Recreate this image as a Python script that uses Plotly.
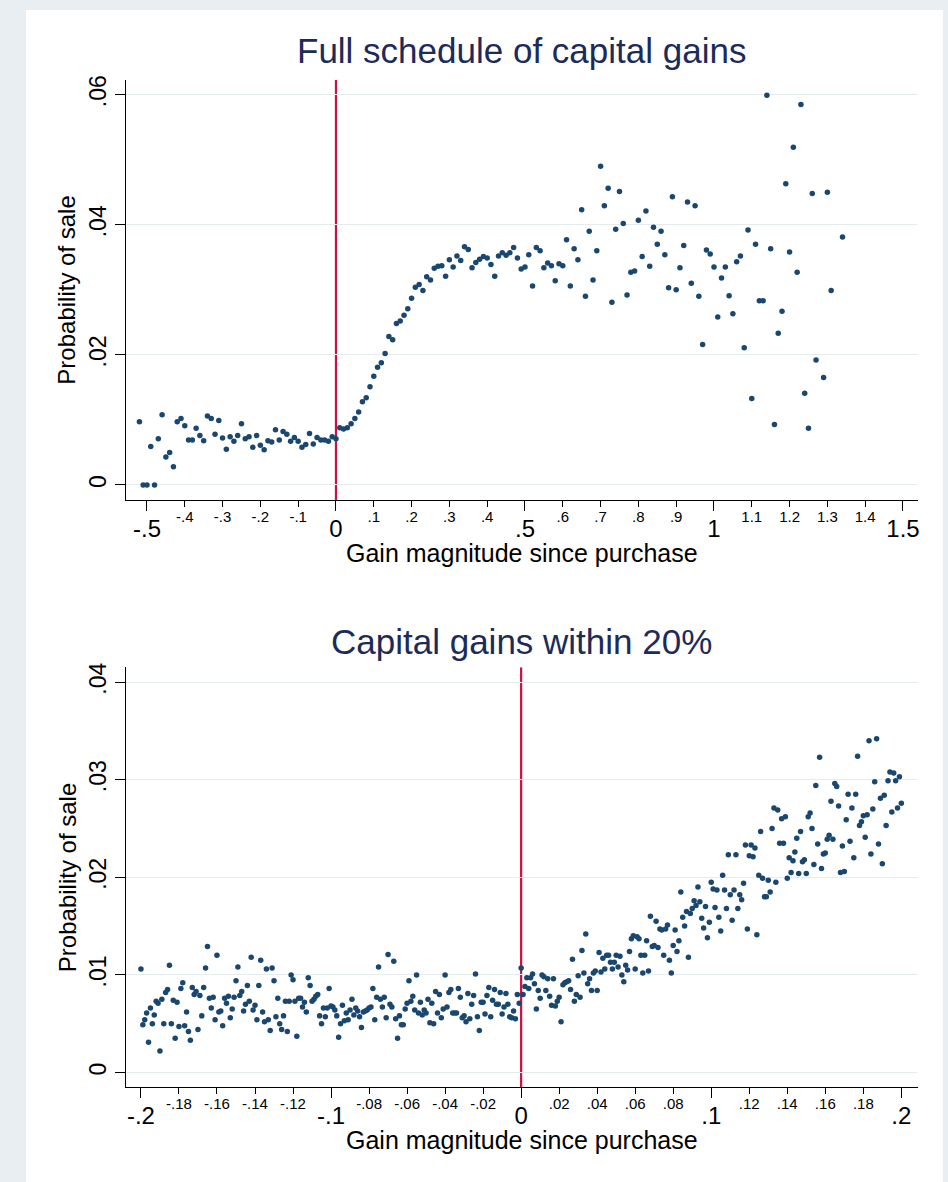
import plotly.graph_objects as go

W, H = 948, 1182
FONT = "Liberation Sans, Arial, sans-serif"
NAVY = "#1a476f"
TITLE_NAVY = "#1c2b59"
RED = "#cc1040"
GRID = "#e4ecee"
FRAME = "#e8eef1"

# ---------------- Top panel: full schedule of capital gains ----------------
top_x = [-0.52, -0.51, -0.50, -0.49, -0.48, -0.47, -0.46, -0.45, -0.44, -0.43,
         -0.42, -0.41, -0.40, -0.39, -0.38, -0.37, -0.36, -0.35, -0.34, -0.33,
         -0.32, -0.31, -0.30, -0.29, -0.28, -0.27, -0.26, -0.25, -0.24, -0.23,
         -0.22, -0.21, -0.20, -0.19, -0.18, -0.17, -0.16, -0.15, -0.14, -0.13,
         -0.12, -0.11, -0.10, -0.09, -0.08, -0.07, -0.06, -0.05, -0.04, -0.03,
         -0.02, -0.01, 0.00,
         0.01, 0.02, 0.03, 0.04, 0.05, 0.06, 0.07, 0.08, 0.09, 0.10,
         0.11, 0.12, 0.13, 0.14, 0.15, 0.16, 0.17, 0.18, 0.19, 0.20,
         0.21, 0.22, 0.23, 0.24, 0.25, 0.26, 0.27, 0.28, 0.29, 0.30,
         0.31, 0.32, 0.33, 0.34, 0.35, 0.36, 0.37, 0.38, 0.39, 0.40,
         0.41, 0.42, 0.43, 0.44, 0.45, 0.46, 0.47, 0.48, 0.49, 0.50,
         0.51, 0.52, 0.53, 0.54, 0.55, 0.56, 0.57, 0.58, 0.59, 0.60,
         0.61, 0.62, 0.63, 0.64, 0.65, 0.66, 0.67, 0.68, 0.69, 0.70,
         0.71, 0.72, 0.73, 0.74, 0.75, 0.76, 0.77, 0.78, 0.79, 0.80,
         0.81, 0.82, 0.83, 0.84, 0.85, 0.86, 0.87, 0.88, 0.89, 0.90,
         0.91, 0.92, 0.93, 0.94, 0.95, 0.96, 0.97, 0.98, 0.99, 1.00,
         1.01, 1.02, 1.03, 1.04, 1.05, 1.06, 1.07, 1.08, 1.09, 1.10,
         1.11, 1.12, 1.13, 1.14, 1.15, 1.16, 1.17, 1.18, 1.19, 1.20,
         1.21, 1.22, 1.23, 1.24, 1.25, 1.26, 1.27, 1.29, 1.30, 1.31,
         1.34]
top_y = [0.0097, 0.0000, 0.0000, 0.0059, 0.0000, 0.0071, 0.0108, 0.0043, 0.0050, 0.0028,
         0.0097, 0.0102, 0.0091, 0.0069, 0.0069, 0.0087, 0.0076, 0.0068, 0.0106, 0.0102,
         0.0078, 0.0099, 0.0072, 0.0055, 0.0074, 0.0067, 0.0076, 0.0094, 0.0071, 0.0074,
         0.0058, 0.0076, 0.0061, 0.0054, 0.0068, 0.0066, 0.0085, 0.0069, 0.0082, 0.0078,
         0.0067, 0.0073, 0.0067, 0.0058, 0.0062, 0.0079, 0.0063, 0.0073, 0.0069, 0.0069,
         0.0067, 0.0074, 0.0071,
         0.0088, 0.0086, 0.0088, 0.0094, 0.0102, 0.0112, 0.0128, 0.0134, 0.0151, 0.0167,
         0.0181, 0.0188, 0.0202, 0.0228, 0.0223, 0.0248, 0.0252, 0.0261, 0.0271, 0.0287,
         0.0304, 0.0308, 0.0299, 0.0320, 0.0315, 0.0333, 0.0336, 0.0337, 0.0321, 0.0346,
         0.0335, 0.0352, 0.0345, 0.0366, 0.0362, 0.0334, 0.0342, 0.0347, 0.0351, 0.0349,
         0.0339, 0.0321, 0.0352, 0.0357, 0.0353, 0.0357, 0.0365, 0.0349, 0.0332, 0.0335,
         0.0354, 0.0306, 0.0365, 0.0360, 0.0334, 0.0341, 0.0337, 0.0314, 0.0340, 0.0337,
         0.0377, 0.0306, 0.0363, 0.0346, 0.0423, 0.0290, 0.0390, 0.0315, 0.0360, 0.0490,
         0.0429, 0.0456, 0.0281, 0.0393, 0.0451, 0.0402, 0.0292, 0.0327, 0.0329, 0.0407,
         0.0351, 0.0421, 0.0336, 0.0396, 0.0370, 0.0390, 0.0354, 0.0303, 0.0443, 0.0300,
         0.0334, 0.0368, 0.0435, 0.0310, 0.0429, 0.0290, 0.0216, 0.0361, 0.0355, 0.0335,
         0.0258, 0.0318, 0.0335, 0.0291, 0.0263, 0.0343, 0.0352, 0.0211, 0.0392, 0.0133,
         0.0370, 0.0283, 0.0283, 0.0599, 0.0363, 0.0093, 0.0233, 0.0267, 0.0463, 0.0358,
         0.0519, 0.0327, 0.0585, 0.0141, 0.0087, 0.0448, 0.0192, 0.0165, 0.0450, 0.0299,
         0.0381]

top_major_vals = [-0.5, 0, 0.5, 1, 1.5]
top_major_text = ["-.5", "0", ".5", "1", "1.5"]
top_minor_vals = [-0.4, -0.3, -0.2, -0.1, 0.1, 0.2, 0.3, 0.4, 0.6, 0.7, 0.8, 0.9,
                  1.1, 1.2, 1.3, 1.4]
top_minor_text = ["-.4", "-.3", "-.2", "-.1", ".1", ".2", ".3", ".4", ".6", ".7", ".8", ".9",
                  "1.1", "1.2", "1.3", "1.4"]
top_y_vals = [0, 0.02, 0.04, 0.06]
top_y_text = ["0", ".02", ".04", ".06"]

# ---------------- Bottom panel: capital gains within 20% ----------------
# bins of width 0.001 from -0.200 to 0.200
bot_x = [round(-0.200 + 0.001 * i, 3) for i in range(401)]

bot_y_neg_far = [  # -0.200 .. -0.098
    0.0106, 0.0049, 0.0054, 0.0061, 0.0031, 0.0066, 0.0050, 0.0059, 0.0073, 0.0071,
    0.0022, 0.0075, 0.0050, 0.0082, 0.0085, 0.0110, 0.0050, 0.0074, 0.0035, 0.0072,
    0.0047, 0.0086, 0.0092, 0.0048, 0.0062, 0.0042, 0.0033, 0.0087, 0.0080, 0.0083,
    0.0044, 0.0079, 0.0058, 0.0087, 0.0107, 0.0129, 0.0076, 0.0066, 0.0077, 0.0054,
    0.0120, 0.0062, 0.0063, 0.0048, 0.0076, 0.0071, 0.0078, 0.0056, 0.0065, 0.0077,
    0.0094, 0.0108, 0.0079, 0.0083, 0.0063, 0.0070, 0.0089, 0.0073, 0.0118, 0.0064,
    0.0069, 0.0054, 0.0089, 0.0115, 0.0062, 0.0052, 0.0106, 0.0054, 0.0043, 0.0107,
    0.0094, 0.0057, 0.0076, 0.0050, 0.0044, 0.0058, 0.0073, 0.0042, 0.0073, 0.0100,
    0.0095, 0.0073, 0.0037, 0.0076, 0.0076, 0.0067, 0.0072, 0.0062, 0.0097, 0.0089,
    0.0073, 0.0075, 0.0078, 0.0080, 0.0058, 0.0050, 0.0066, 0.0057, 0.0066, 0.0086,
    0.0068, 0.0067, 0.0064]
bot_y_neg_near = [  # -0.097 .. -0.001
    0.0058, 0.0036, 0.0050, 0.0069, 0.0053, 0.0061, 0.0054, 0.0064, 0.0075, 0.0059,
    0.0066, 0.0063, 0.0057, 0.0046, 0.0062, 0.0063, 0.0064, 0.0066, 0.0067, 0.0086,
    0.0054, 0.0077, 0.0108, 0.0075, 0.0067, 0.0077, 0.0056, 0.0121, 0.0070, 0.0067,
    0.0114, 0.0055, 0.0035, 0.0058, 0.0049, 0.0049, 0.0065, 0.0071, 0.0094, 0.0073,
    0.0078, 0.0064, 0.0100, 0.0061, 0.0072, 0.0059, 0.0064, 0.0061, 0.0075, 0.0051,
    0.0071, 0.0050, 0.0083, 0.0061, 0.0080, 0.0056, 0.0065, 0.0100, 0.0067, 0.0082,
    0.0085, 0.0061, 0.0061, 0.0061, 0.0086, 0.0077, 0.0056, 0.0058, 0.0052, 0.0081,
    0.0055, 0.0070, 0.0079, 0.0101, 0.0057, 0.0043, 0.0072, 0.0072, 0.0060, 0.0079,
    0.0087, 0.0057, 0.0074, 0.0085, 0.0070, 0.0070, 0.0082, 0.0060, 0.0067, 0.0081,
    0.0070, 0.0057, 0.0056, 0.0063, 0.0055, 0.0080, 0.0071]
bot_y_zero = [0.0107]
bot_y_pos_near = [  # 0.001 .. 0.108
    0.0080, 0.0088, 0.0097, 0.0086, 0.0097, 0.0101, 0.0091, 0.0065, 0.0084, 0.0076,
    0.0100, 0.0098, 0.0084, 0.0096, 0.0078, 0.0069, 0.0096, 0.0068, 0.0073, 0.0077,
    0.0052, 0.0090, 0.0092, 0.0093, 0.0094, 0.0085, 0.0116, 0.0073, 0.0080, 0.0099,
    0.0077, 0.0125, 0.0102, 0.0142, 0.0091, 0.0096, 0.0084, 0.0102, 0.0104, 0.0084,
    0.0123, 0.0103, 0.0117, 0.0106, 0.0120, 0.0120, 0.0113, 0.0106, 0.0113, 0.0120,
    0.0108, 0.0119, 0.0100, 0.0093, 0.0110, 0.0105, 0.0124, 0.0137, 0.0140, 0.0106,
    0.0139, 0.0137, 0.0120, 0.0102, 0.0120, 0.0135, 0.0104, 0.0160, 0.0129, 0.0130,
    0.0155, 0.0128, 0.0147, 0.0146, 0.0120, 0.0147, 0.0151, 0.0115, 0.0102, 0.0130,
    0.0146, 0.0124, 0.0135, 0.0185, 0.0159, 0.0150, 0.0165, 0.0118, 0.0163, 0.0168,
    0.0176, 0.0171, 0.0190, 0.0175, 0.0158, 0.0148, 0.0170, 0.0138, 0.0154, 0.0195,
    0.0188, 0.0169, 0.0187, 0.0159, 0.0145, 0.0202, 0.0187, 0.0168]
bot_y_pos_far = [  # 0.109 .. 0.200
    0.0223, 0.0182, 0.0156, 0.0187, 0.0223, 0.0168, 0.0182, 0.0177, 0.0194, 0.0233,
    0.0147, 0.0222, 0.0233, 0.0221, 0.0230, 0.0141, 0.0202, 0.0247, 0.0199, 0.0180,
    0.0180, 0.0197, 0.0185, 0.0250, 0.0271, 0.0195, 0.0269, 0.0235, 0.0260, 0.0235,
    0.0262, 0.0199, 0.0220, 0.0205, 0.0217, 0.0226, 0.0240, 0.0204, 0.0247, 0.0216,
    0.0218, 0.0204, 0.0262, 0.0266, 0.0250, 0.0213, 0.0294, 0.0234, 0.0323, 0.0209,
    0.0224, 0.0225, 0.0239, 0.0243, 0.0278, 0.0239, 0.0296, 0.0293, 0.0273, 0.0205,
    0.0232, 0.0206, 0.0259, 0.0285, 0.0237, 0.0271, 0.0220, 0.0285, 0.0324, 0.0253,
    0.0257, 0.0263, 0.0241, 0.0264, 0.0340, 0.0224, 0.0270, 0.0298, 0.0342, 0.0234,
    0.0281, 0.0214, 0.0284, 0.0253, 0.0299, 0.0308, 0.0267, 0.0307, 0.0299, 0.0271,
    0.0303, 0.0276]
bot_y = bot_y_neg_far + bot_y_neg_near + bot_y_zero + bot_y_pos_near + bot_y_pos_far
assert len(bot_y) == len(bot_x)
assert len(top_x) == len(top_y)

bot_major_vals = [-0.2, -0.1, 0, 0.1, 0.2]
bot_major_text = ["-.2", "-.1", "0", ".1", ".2"]
bot_minor_vals = [-0.18, -0.16, -0.14, -0.12, -0.08, -0.06, -0.04, -0.02,
                  0.02, 0.04, 0.06, 0.08, 0.12, 0.14, 0.16, 0.18]
bot_minor_text = ["-.18", "-.16", "-.14", "-.12", "-.08", "-.06", "-.04", "-.02",
                  ".02", ".04", ".06", ".08", ".12", ".14", ".16", ".18"]
bot_y_vals = [0, 0.01, 0.02, 0.03, 0.04]
bot_y_text = ["0", ".01", ".02", ".03", ".04"]

titles = ["Full schedule of capital gains", "Capital gains within 20%"]
x_title = "Gain magnitude since purchase"
y_title = "Probability of sale"

# ---------------- geometry (pixels) ----------------
PX_L, PX_R = 126, 920
TOP_T, TOP_B = 75, 497
BOT_T, BOT_B = 665, 1087
xdom = [PX_L / W, PX_R / W]


def ydom(t, b):
    return [1 - b / H, 1 - t / H]


fig = go.Figure()
fig.add_trace(go.Scatter(x=top_x, y=top_y, mode="markers",
                         marker=dict(size=5.5, color=NAVY, line=dict(width=0)),
                         xaxis="x", yaxis="y", hoverinfo="skip", showlegend=False))
fig.add_trace(go.Scatter(x=bot_x, y=bot_y, mode="markers",
                         marker=dict(size=5.5, color=NAVY, line=dict(width=0)),
                         xaxis="x2", yaxis="y2", hoverinfo="skip", showlegend=False))
# empty carriers so the secondary (minor-label) axes get their own subplots
fig.add_trace(go.Scatter(x=[None], y=[None], mode="markers", xaxis="x3", yaxis="y",
                         hoverinfo="skip", showlegend=False))
fig.add_trace(go.Scatter(x=[None], y=[None], mode="markers", xaxis="x4", yaxis="y2",
                         hoverinfo="skip", showlegend=False))

major_font = dict(family=FONT, size=24, color="black")
minor_font = dict(family=FONT, size=15, color="black")
ytick_font = dict(family=FONT, size=23, color="black")


def x_major(rng, anchor, vals, text):
    return dict(domain=xdom, range=rng, anchor=anchor, tickmode="array",
                tickvals=vals, ticktext=text, ticks="outside", ticklen=10,
                tickwidth=1, tickcolor="black", showline=True, linecolor="black",
                linewidth=1, showgrid=False, zeroline=False, tickfont=major_font,
                ticklabelstandoff=-3, fixedrange=True)


def x_minor(rng, anchor, over, vals, text):
    return dict(domain=xdom, range=rng, anchor=anchor, overlaying=over, side="bottom",
                tickmode="array", tickvals=vals, ticktext=text, ticks="outside",
                ticklen=6, tickwidth=1, tickcolor="black", showline=False,
                showgrid=False, zeroline=False, tickfont=minor_font,
                ticklabelstandoff=-3, fixedrange=True)


def y_axis(rng, dom, anchor, vals, text):
    return dict(domain=dom, range=rng, anchor=anchor, tickmode="array",
                tickvals=vals, ticktext=text, tickangle=-90, ticks="outside",
                ticklen=10, tickwidth=1, tickcolor="black", showline=True,
                linecolor="black", linewidth=1, showgrid=True, gridcolor=GRID,
                gridwidth=1, zeroline=False, tickfont=ytick_font,
                ticklabelstandoff=0, fixedrange=True)


top_xr = [-0.5562, 1.5399]
bot_xr = [-0.2080, 0.2088]

fig.update_layout(
    width=W, height=H,
    margin=dict(l=0, r=0, t=0, b=0),
    paper_bgcolor=FRAME,
    plot_bgcolor="white",
    font=dict(family=FONT, color="black"),
    xaxis=x_major(top_xr, "y", top_major_vals, top_major_text),
    xaxis3=x_minor(top_xr, "y", "x", top_minor_vals, top_minor_text),
    yaxis=y_axis([-0.0023, 0.0623], ydom(TOP_T, TOP_B), "x", top_y_vals, top_y_text),
    xaxis2=x_major(bot_xr, "y2", bot_major_vals, bot_major_text),
    xaxis4=x_minor(bot_xr, "y2", "x2", bot_minor_vals, bot_minor_text),
    yaxis2=y_axis([-0.00153, 0.04153], ydom(BOT_T, BOT_B), "x2", bot_y_vals, bot_y_text),
)

# white panel behind the charts (light frame on top/left/right)
fig.add_shape(type="rect", xref="paper", yref="paper", x0=26 / W, x1=945 / W,
              y0=0, y1=1 - 5 / H, fillcolor="white", line=dict(width=0), layer="below")

# vertical red reference lines at zero
for xr, yr, rng in (("x", "y", [-0.0023, 0.0623]), ("x2", "y2", [-0.00153, 0.04153])):
    fig.add_shape(type="line", xref=xr, yref=yr, x0=0, x1=0, y0=rng[0], y1=rng[1],
                  line=dict(color=RED, width=2.2), layer="below")

cx = (PX_L + PX_R) / 2 / W
anns = [
    dict(text=titles[0], x=cx, y=1 - 46 / H, size=35, color=TITLE_NAVY, angle=0),
    dict(text=titles[1], x=cx, y=1 - 639 / H, size=35, color=TITLE_NAVY, angle=0),
    dict(text=x_title, x=cx, y=1 - 550 / H, size=25, color="black", angle=0),
    dict(text=x_title, x=cx, y=1 - 1140 / H, size=25, color="black", angle=0),
    dict(text=y_title, x=67 / W, y=1 - (TOP_T + TOP_B) / 2 / H, size=24, color="black", angle=-90),
    dict(text=y_title, x=67 / W, y=1 - (BOT_T + BOT_B) / 2 / H, size=24, color="black", angle=-90),
]
for a in anns:
    fig.add_annotation(text=a["text"], x=a["x"], y=a["y"], xref="paper", yref="paper",
                       xanchor="center", yanchor="middle", showarrow=False,
                       textangle=a["angle"],
                       font=dict(family=FONT, size=a["size"], color=a["color"]))

# remove the default page margin so the figure fills the window exactly
fig.write_html("out.html", config={"displayModeBar": False},
               post_script="document.body.style.margin='0';"
                           "document.body.style.background='" + FRAME + "';")
